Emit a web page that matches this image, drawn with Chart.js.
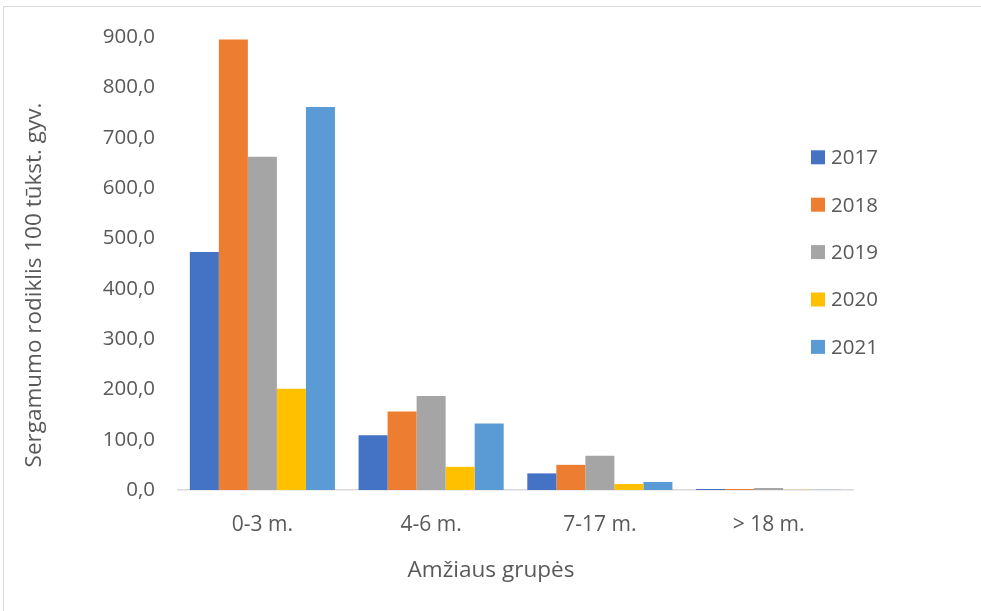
<!DOCTYPE html>
<html>
<head>
<meta charset="utf-8">
<script src="https://cdn.jsdelivr.net/npm/chart.js@4.4.1/dist/chart.umd.min.js"></script>
<style>
  html, body { margin: 0; padding: 0; background: #fff; overflow: hidden; }
  #wrap { position: relative; width: 981px; height: 611px; }
  #frame { position: absolute; left: 3px; top: 6px; width: 1200px; height: 800px; border: 1.5px solid #d9d9d9; box-sizing: border-box; }
  canvas { position: absolute; left: 0; top: 0; }
</style>
</head>
<body>
<div id="wrap">
  <div id="frame"></div>
  <canvas id="c" width="981" height="611"></canvas>
</div>
<script>
const categories = ['0-3 m.', '4-6 m.', '7-17 m.', '> 18 m.'];
const years = ['2017', '2018', '2019', '2020', '2021'];
const v2017 = [473, 109, 33, 2];
const v2018 = [895, 156, 50, 2];
const v2019 = [662, 187, 68, 4];
const v2020 = [201, 46, 12, 0.3];
const v2021 = [761, 132, 16, 0.3];
const colors = ['#4472C4', '#ED7D31', '#A5A5A5', '#FFC000', '#5B9BD5'];
const yTitle = 'Sergamumo rodiklis 100 tūkst. gyv.';
const xTitle = 'Amžiaus grupės';

const FONT = '"Open Sans"';
const TXT = '#595959';

const seriesValues = [v2017, v2018, v2019, v2020, v2021];

function fitFont(ctx, text, target) {
  ctx.font = '20px ' + FONT;
  const w = ctx.measureText(text).width;
  return 20 * target / w;
}

const customDraw = {
  id: 'customDraw',
  afterDraw(chart) {
    const ctx = chart.ctx;
    ctx.save();
    ctx.fillStyle = TXT;
    // y title
    const ys = fitFont(ctx, yTitle, 365);
    ctx.font = ys.toFixed(2) + 'px ' + FONT;
    ctx.save();
    ctx.translate(41, 285);
    ctx.rotate(-Math.PI / 2);
    ctx.textAlign = 'center';
    ctx.textBaseline = 'alphabetic';
    ctx.fillText(yTitle, 0, 0);
    ctx.restore();
    // x title
    const xs = fitFont(ctx, xTitle, 167);
    ctx.font = xs.toFixed(2) + 'px ' + FONT;
    ctx.textAlign = 'center';
    ctx.textBaseline = 'alphabetic';
    ctx.fillText(xTitle, 491, 577);
    // legend
    ctx.font = '20.5px ' + FONT;
    ctx.textAlign = 'left';
    ctx.textBaseline = 'middle';
    chart.data.datasets.forEach((ds, i) => {
      const cy = 157.3 + i * 47.4;
      ctx.fillStyle = ds.backgroundColor;
      ctx.fillRect(811, cy - 7, 14, 14);
      ctx.fillStyle = TXT;
      ctx.fillText(ds.label, 831, cy + 1);
    });
    ctx.restore();
  }
};

new Chart(document.getElementById('c'), {
  type: 'bar',
  data: {
    labels: categories,
    datasets: years.map((y, i) => ({
      label: y,
      data: seriesValues[i],
      backgroundColor: colors[i],
      borderWidth: 0,
      barPercentage: 1.0,
      categoryPercentage: 0.86
    }))
  },
  options: {
    responsive: false,
    animation: false,
    devicePixelRatio: 1,
    layout: { padding: { top: 37, right: 128, bottom: 0, left: 0 } },
    plugins: {
      legend: { display: false },
      tooltip: { enabled: false },
      title: { display: false }
    },
    scales: {
      x: {
        grid: { display: false, drawTicks: false },
        border: { display: true, color: '#d9d9d9', width: 1.5 },
        ticks: { color: TXT, font: { family: FONT, size: 21 }, padding: 22, maxRotation: 0 },
        afterFit(scale) { scale.height = 611 - 490; }
      },
      y: {
        min: 0,
        max: 900,
        grid: { display: false, drawTicks: false },
        border: { display: false },
        ticks: {
          stepSize: 100,
          color: TXT,
          font: { family: FONT, size: 20.5 },
          padding: 23,
          callback: (v) => Number(v).toFixed(1).replace('.', ',')
        },
        afterFit(scale) { scale.width = 178; }
      }
    }
  },
  plugins: [customDraw]
});
</script>
</body>
</html>
